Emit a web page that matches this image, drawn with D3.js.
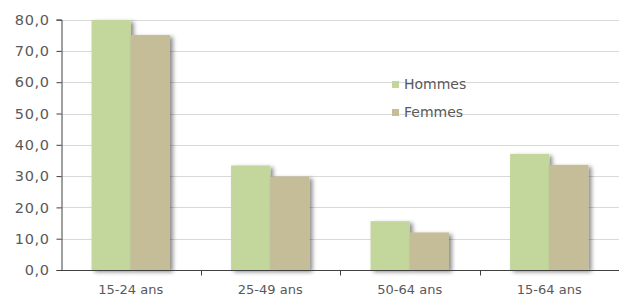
<!DOCTYPE html>
<html>
<head>
<meta charset="utf-8">
<script src="https://cdn.jsdelivr.net/npm/d3@7/dist/d3.min.js"></script>
<style>
  body { margin: 0; background: #fff; }
  svg text { font-family: "DejaVu Sans", sans-serif; fill: #595959; }
</style>
</head>
<body>
<figure id="chart" style="margin:0"></figure>
<script>
// data
const categories = ["15-24 ans", "25-49 ans", "50-64 ans", "15-64 ans"];
const seriesNames = ["Hommes", "Femmes"];
const hommes = [79.9, 33.4, 15.6, 37.1];
const femmes = [75.1, 29.9, 12.0, 33.6];
const yTicks = [0, 10, 20, 30, 40, 50, 60, 70, 80];
const colors = ["#c3d69b", "#c4bd97"];

const width = 619, height = 296;
const margin = { top: 19.6, right: 0, bottom: 26, left: 61 };

const svg = d3.select("figure#chart")
  .append("svg")
  .attr("width", width)
  .attr("height", height);

// drop shadow behind bars
const defs = svg.append("defs");
const f = defs.append("filter").attr("id", "shadow")
  .attr("x", "-20%").attr("y", "-20%").attr("width", "150%").attr("height", "150%");
f.append("feDropShadow")
  .attr("dx", 3).attr("dy", 2).attr("stdDeviation", 2)
  .attr("flood-color", "#000").attr("flood-opacity", 0.45);

const x = d3.scaleBand()
  .domain(categories)
  .range([margin.left, width - margin.right])
  .paddingInner(0)
  .paddingOuter(0);

const xInner = d3.scaleBand()
  .domain(seriesNames)
  .range([0, x.bandwidth()])
  .paddingInner(0)
  .paddingOuter(0.78);

const y = d3.scaleLinear()
  .domain([0, 80])
  .range([height - margin.bottom, margin.top]);

// gridlines
svg.append("g")
  .selectAll("line")
  .data(yTicks.slice(1))
  .enter()
  .append("line")
  .attr("x1", margin.left)
  .attr("x2", width - margin.right)
  .attr("y1", d => Math.round(y(d)) + 0.5)
  .attr("y2", d => Math.round(y(d)) + 0.5)
  .attr("stroke", "#d9d9d9")
  .attr("stroke-width", 1);

// legend (drawn under bars, gridlines go through it)
const legend = svg.append("g").attr("transform", "translate(392,81)");
seriesNames.forEach((name, i) => {
  const g = legend.append("g").attr("transform", "translate(0," + i * 28 + ")");
  g.append("rect").attr("width", 7).attr("height", 7).attr("fill", colors[i]);
  g.append("text").attr("x", 12).attr("y", 8)
    .style("font-size", "14px").text(name);
});

// bars
const rows = categories.map((c, i) => ({ cat: c, values: [hommes[i], femmes[i]] }));
const groups = svg.append("g")
  .selectAll("g")
  .data(rows)
  .enter()
  .append("g")
  .attr("transform", d => "translate(" + x(d.cat) + ",0)");

groups.selectAll("rect")
  .data(d => d.values.map((v, i) => ({ name: seriesNames[i], value: v, i: i })))
  .enter()
  .append("rect")
  .attr("x", d => xInner(d.name))
  .attr("width", xInner.bandwidth())
  .attr("y", d => y(d.value))
  .attr("height", d => y(0) - y(d.value))
  .attr("fill", d => colors[d.i])
  .attr("filter", "url(#shadow)");

// y axis
const yAxis = svg.append("g")
  .attr("transform", "translate(" + (margin.left + 0.5) + ",0)")
  .call(d3.axisLeft(y).tickValues(yTicks).tickSize(5).tickPadding(7)
    .tickFormat(d => d3.format(".1f")(d).replace(".", ",")));
yAxis.select(".domain").attr("stroke", "#404040");
yAxis.selectAll(".tick line").attr("stroke", "#404040");
yAxis.selectAll("text").style("font-size", "14.5px").style("letter-spacing", "0.6px").attr("fill", "#595959");

// x axis
const xAxis = svg.append("g")
  .attr("transform", "translate(0," + (y(0) + 0.5) + ")");
xAxis.append("line")
  .attr("x1", margin.left).attr("x2", width - margin.right)
  .attr("stroke", "#404040");
xAxis.selectAll(".sep")
  .data(categories.slice(1))
  .enter()
  .append("line")
  .attr("class", "sep")
  .attr("x1", d => Math.round(x(d)) + 0.5)
  .attr("x2", d => Math.round(x(d)) + 0.5)
  .attr("y1", 0).attr("y2", 5)
  .attr("stroke", "#404040");
xAxis.selectAll(".lbl")
  .data(categories)
  .enter()
  .append("text")
  .attr("class", "lbl")
  .attr("x", d => x(d) + x.bandwidth() / 2)
  .attr("y", 23)
  .style("text-anchor", "middle")
  .style("font-size", "13px")
  .text(d => d);
</script>
</body>
</html>
